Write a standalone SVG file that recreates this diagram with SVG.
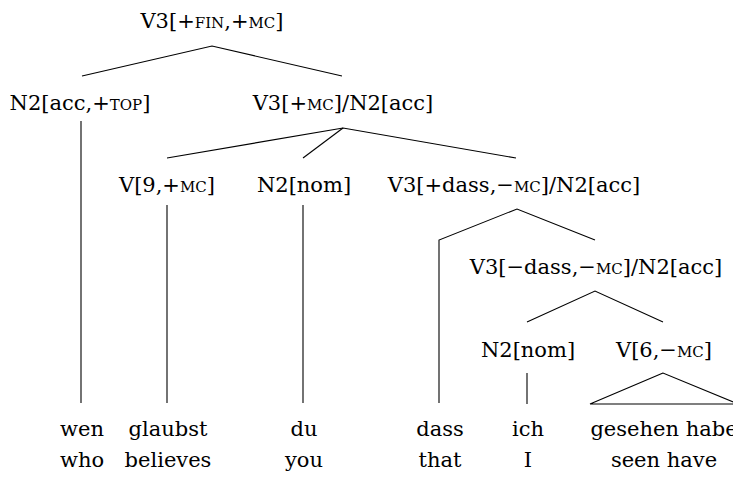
<svg xmlns="http://www.w3.org/2000/svg" width="733" height="479" viewBox="0 0 733 479">
<style>
text{font-family:"DejaVu Serif","Liberation Serif",serif;font-size:21px;fill:#000;text-anchor:middle}
.sc{font-variant:small-caps}
.ln line,.ln polyline,.ln polygon{stroke:#000;stroke-width:1.1;fill:none}
</style>
<rect width="733" height="479" fill="#fff"/>
<g class="ln" id="connectors">
<polyline points="82,76 212,46 342,76"/>
<polyline points="167,158 343,128 516,158"/>
<line x1="343" y1="128" x2="303" y2="158"/>
<polyline points="439,403 439,240 517,209 595,240"/>
<polyline points="527,322 595,291 663,322"/>
<line x1="81" y1="121" x2="81" y2="403"/>
<line x1="167" y1="205" x2="167" y2="403"/>
<line x1="303" y1="205" x2="303" y2="403"/>
<line x1="527" y1="373" x2="527" y2="404"/>
<polygon points="663,373 590,404 738,404"/>
</g>
<g id="n-root"><text x="212" y="28">V3[+<tspan class="sc">fin</tspan>,+<tspan class="sc">mc</tspan>]</text></g>
<g id="n-n2acc"><text x="80" y="110">N2[acc,+<tspan class="sc">top</tspan>]</text></g>
<g id="n-v3mc"><text x="343" y="110">V3[+<tspan class="sc">mc</tspan>]/N2[acc]</text></g>
<g id="n-v9"><text x="167" y="192">V[9,+<tspan class="sc">mc</tspan>]</text></g>
<g id="n-n2nom1"><text x="304" y="192">N2[nom]</text></g>
<g id="n-v3dass"><text x="514" y="192">V3[+dass,−<tspan class="sc">mc</tspan>]/N2[acc]</text></g>
<g id="n-v3ndass"><text x="596" y="274">V3[−dass,−<tspan class="sc">mc</tspan>]/N2[acc]</text></g>
<g id="n-n2nom2"><text x="528" y="357">N2[nom]</text></g>
<g id="n-v6"><text x="664" y="357">V[6,−<tspan class="sc">mc</tspan>]</text></g>
<g id="words">
<text x="82" y="436">wen</text>
<text x="168" y="436">glaubst</text>
<text x="304" y="436">du</text>
<text x="440" y="436">dass</text>
<text x="528" y="436">ich</text>
<text x="664" y="436">gesehen habe</text>
<text x="82" y="467">who</text>
<text x="168" y="467">believes</text>
<text x="304" y="467">you</text>
<text x="440" y="467">that</text>
<text x="528" y="467">I</text>
<text x="664" y="467">seen have</text>
</g>
</svg>
